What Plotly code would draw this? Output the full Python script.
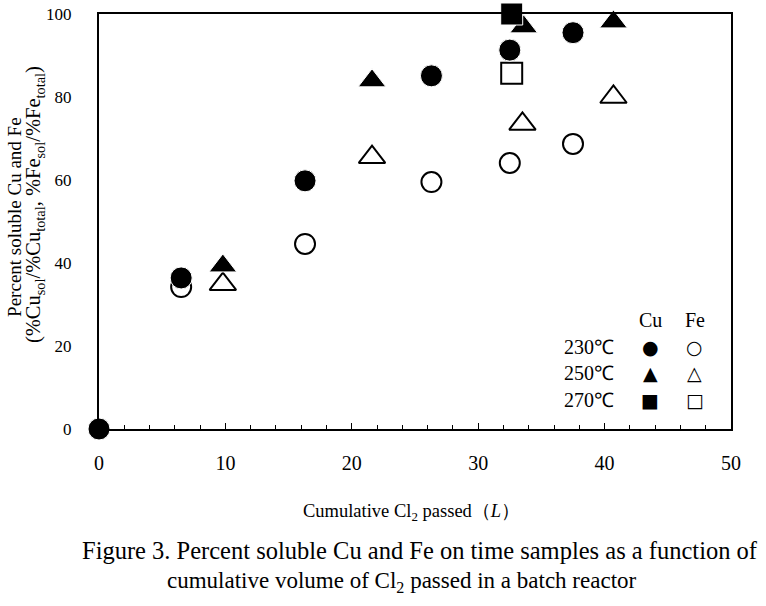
import plotly.graph_objects as go

# Data
cu230_x = [0, 6.5, 16.3, 26.3, 32.5, 37.5]
cu230_y = [0, 36.4, 59.8, 85.1, 91.3, 95.5]
fe230_x = [6.5, 16.3, 26.3, 32.5, 37.5]
fe230_y = [34.2, 44.6, 59.5, 64.1, 68.7]
cu250_x = [9.8, 21.6, 33.6, 40.7]
cu250_y = [39.3, 83.9, 96.9, 98.1]
fe250_x = [9.8, 21.6, 33.5, 40.7]
fe250_y = [34.9, 65.5, 73.5, 80.0]
cu270_x = [32.65]
cu270_y = [100.0]
fe270_x = [32.65]
fe270_y = [85.7]

x_ticks = [0, 10, 20, 30, 40, 50]
y_ticks = [0, 20, 40, 60, 80, 100]

FONT = "Liberation Serif"

fig = go.Figure()

def add(x, y, symbol, filled, size):
    fig.add_trace(go.Scatter(
        x=x, y=y, mode="markers", cliponaxis=False, showlegend=False,
        marker=dict(symbol=symbol, size=size,
                    color="black" if filled else "white",
                    line=dict(color="black" if not filled else "white",
                              width=2 if not filled else 1)),
    ))

add(fe230_x, fe230_y, "circle", False, 20)
add(fe250_x, fe250_y, "triangle-up", False, 23)
add(fe270_x, fe270_y, "square", False, 21)
add(cu230_x, cu230_y, "circle", True, 22)
add(cu250_x, cu250_y, "triangle-up", True, 24)
add(cu270_x, cu270_y, "square", True, 22)

fig.update_xaxes(
    range=[0, 50], tickvals=x_ticks, ticktext=[str(v) for v in x_ticks],
    showline=True, linecolor="black", linewidth=2, mirror=True,
    ticks="inside", ticklen=6, tickcolor="black", tickwidth=1,
    minor=dict(dtick=2, ticks="inside", ticklen=4, tickcolor="black"),
    showgrid=False, zeroline=False, ticklabelstandoff=15, automargin=False,
    tickfont=dict(family=FONT, size=20, color="black"),
)
fig.update_yaxes(
    range=[0, 100], tickvals=y_ticks, ticktext=[str(v) for v in y_ticks],
    showline=True, linecolor="black", linewidth=2, mirror=True,
    ticks="", showgrid=False, zeroline=False, ticklabelstandoff=22, automargin=False,
    tickfont=dict(family=FONT, size=17, color="black"),
)

ytitle2 = ("(%Cu<sub>sol</sub>/%Cu<sub>total</sub>, %Fe<sub>sol</sub>"
           "/%Fe<sub>total</sub>)")

ann = []
# y-axis title (two lines)
ann.append(dict(text="Percent soluble Cu and Fe", xref="paper", yref="paper",
                x=-0.133, y=0.511, textangle=-90, showarrow=False,
                xanchor="center", yanchor="middle",
                font=dict(family=FONT, size=19, color="black")))
ann.append(dict(text=ytitle2,
                xref="paper", yref="paper", x=-0.101, y=0.54, textangle=-90,
                showarrow=False, xanchor="center", yanchor="middle",
                font=dict(family=FONT, size=20.5, color="black")))
# x-axis title
ann.append(dict(text="Cumulative Cl<sub>2</sub> passed（<i>L</i>）", xref="paper", yref="paper",
                x=0.495, y=-0.2, showarrow=False, xanchor="center", yanchor="middle",
                font=dict(family=FONT, size=18.5, color="black")))
# caption
ann.append(dict(text="Figure 3. Percent soluble Cu and Fe on time samples as a function of",
                xref="paper", yref="paper", x=0.508, y=-0.2916, showarrow=False,
                xanchor="center", yanchor="middle",
                font=dict(family=FONT, size=24.5, color="black")))
ann.append(dict(text="cumulative volume of Cl<sub>2</sub> passed in a batch reactor",
                xref="paper", yref="paper", x=0.479, y=-0.369, showarrow=False,
                xanchor="center", yanchor="middle",
                font=dict(family=FONT, size=23, color="black")))

# legend block (text-based)
leg_font = dict(family=FONT, size=20, color="black")
sym_font = dict(family="DejaVu Sans", size=19, color="black")
ann.append(dict(text="Cu", xref="paper", yref="paper", x=0.872, y=0.263,
                showarrow=False, xanchor="center", yanchor="middle", font=leg_font))
ann.append(dict(text="Fe", xref="paper", yref="paper", x=0.943, y=0.263,
                showarrow=False, xanchor="center", yanchor="middle", font=leg_font))
rows = [("230℃", "●", "○", 0.198), ("250℃", "▲", "△", 0.135), ("270℃", "■", "□", 0.070)]
for label, s1, s2, yy in rows:
    ann.append(dict(text=label, xref="paper", yref="paper", x=0.818, y=yy,
                    showarrow=False, xanchor="right", yanchor="middle", font=leg_font))
    ann.append(dict(text=s1, xref="paper", yref="paper", x=0.872, y=yy,
                    showarrow=False, xanchor="center", yanchor="middle", font=sym_font))
    ann.append(dict(text=s2, xref="paper", yref="paper", x=0.943, y=yy,
                    showarrow=False, xanchor="center", yanchor="middle", font=sym_font))

fig.update_layout(
    width=766, height=606,
    margin=dict(l=99, r=35, t=14, b=177, autoexpand=False),
    paper_bgcolor="white", plot_bgcolor="white",
    annotations=ann, showlegend=False, hovermode=False,
    font=dict(family=FONT, color="black"),
)

# remove the default 8px page margin so the figure sits at the window's corner
fig.write_html("out.html",
               config={"displayModeBar": False, "staticPlot": True},
               post_script="document.body.style.margin='0';document.body.style.overflow='hidden';")
